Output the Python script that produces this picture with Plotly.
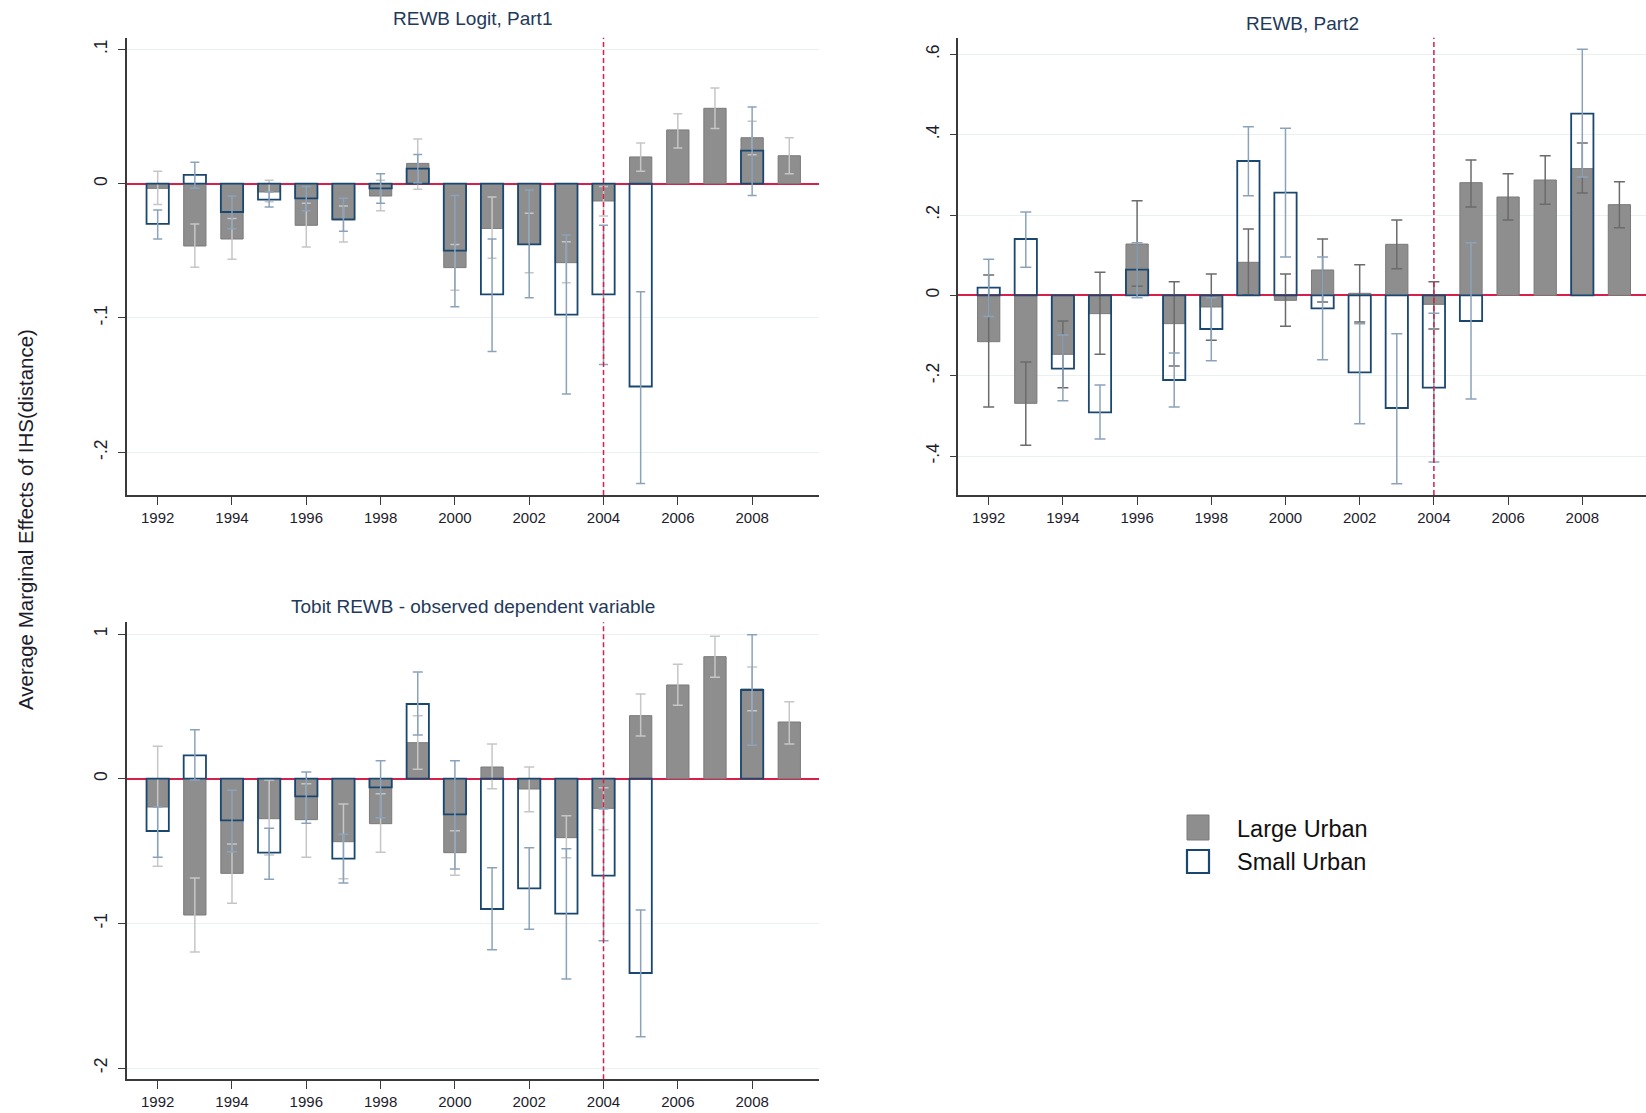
import plotly.graph_objects as go

# ---- data -------------------------------------------------------------
years = list(range(1992, 2010))

# Panel 1: REWB Logit, Part1
logit_large = [-0.0035, -0.0464, -0.0412, -0.0062, -0.031, -0.027, -0.0092, 0.0151, -0.0625,
               -0.0333, -0.0452, -0.0588, -0.0129, 0.0199, 0.040, 0.0561, 0.0342, 0.0208]
logit_large_lo = [-0.0156, -0.0623, -0.0563, -0.0134, -0.0471, -0.0434, -0.0201, -0.0042, -0.0794,
                  -0.0556, -0.0663, -0.0737, -0.0241, 0.0092, 0.0266, 0.041, 0.0216, 0.0074]
logit_large_hi = [0.0092, -0.030, -0.026, 0.0025, -0.0146, -0.0166, 0.0025, 0.0333, -0.0452,
                  -0.0099, -0.0221, -0.0432, -0.0022, 0.0303, 0.0521, 0.0712, 0.0464, 0.0342]
logit_small = [-0.030, 0.0065, -0.0211, -0.0119, -0.0109, -0.0266, -0.0035, 0.0112, -0.0499,
               -0.0824, -0.0452, -0.0975, -0.0824, -0.151, None, None, 0.0246, None]
logit_small_lo = [-0.0412, -0.0035, -0.0335, -0.0174, -0.0201, -0.0355, -0.0146, 0.0007, -0.0916,
                  -0.125, -0.0849, -0.1566, -0.1347, -0.2233, None, None, -0.0089, None]
logit_small_hi = [-0.0196, 0.0159, -0.0092, -0.0062, -0.0022, -0.0109, 0.0074, 0.0218, -0.0089,
                  -0.0412, -0.0047, -0.0382, -0.031, -0.0804, None, None, 0.0571, None]

# Panel 2: REWB, Part2
rewb_large = [-0.1154, -0.2689, -0.1469, -0.0456, 0.1278, -0.0705, -0.029, 0.0822, -0.0124,
              0.0631, 0.005, 0.127, -0.0224, 0.2805, 0.2448, 0.2871, 0.3154, 0.2257]
rewb_large_lo = [-0.278, -0.3734, -0.2299, -0.1469, 0.0224, -0.176, -0.112, 0.0017, -0.0772,
                 -0.0166, -0.0664, 0.0664, -0.0838, 0.2199, 0.1876, 0.2266, 0.2548, 0.1685]
rewb_large_hi = [0.0506, -0.166, -0.0639, 0.0573, 0.2357, 0.034, 0.0531, 0.1651, 0.0531,
                 0.1402, 0.0763, 0.1876, 0.034, 0.3369, 0.3029, 0.3477, 0.3793, 0.283]
rewb_small = [0.0191, 0.1402, -0.1826, -0.2913, 0.0639, -0.2108, -0.0838, 0.3344, 0.2556,
              -0.0324, -0.1917, -0.2805, -0.2299, -0.0639, None, None, 0.4523, None]
rewb_small_lo = [-0.053, 0.0697, -0.2622, -0.3577, -0.0058, -0.278, -0.1627, 0.2481, 0.0954,
                 -0.1602, -0.3195, -0.4689, -0.415, -0.2581, None, None, 0.2946, None]
rewb_small_hi = [0.0896, 0.2075, -0.0988, -0.2232, 0.1311, -0.1436, -0.006, 0.4199, 0.4158,
                 0.0954, -0.0705, -0.0954, -0.0448, 0.1311, None, None, 0.6124, None]

# Panel 3: Tobit REWB - observed dependent variable
tobit_large = [-0.1959, -0.9424, -0.6544, -0.2765, -0.2834, -0.4355, -0.3111, 0.2488, -0.5115,
               0.0806, -0.0714, -0.4078, -0.2051, 0.4355, 0.6475, 0.8433, 0.6198, 0.3917]
tobit_large_lo = [-0.606, -1.198, -0.8618, -0.5276, -0.5438, -0.6912, -0.5092, 0.0645, -0.6682,
                  -0.0691, -0.2281, -0.5461, -0.3525, 0.2949, 0.5069, 0.7005, 0.47, 0.2396]
tobit_large_hi = [0.2235, -0.6866, -0.4516, -0.0092, -0.0346, -0.1751, -0.1037, 0.4355, -0.3594,
                  0.2396, 0.0806, -0.2558, -0.0622, 0.5853, 0.7903, 0.9839, 0.7719, 0.5323]
tobit_small = [-0.3618, 0.1613, -0.288, -0.5115, -0.1221, -0.553, -0.0599, 0.5161, -0.2465,
               -0.9009, -0.758, -0.9332, -0.6705, -1.3433, None, None, 0.613, None]
tobit_small_lo = [-0.5438, -0.01, -0.5046, -0.6959, -0.3088, -0.7212, -0.2696, 0.3018, -0.6244,
                  -1.182, -1.0415, -1.3848, -1.1198, -1.7834, None, None, 0.2304, None]
tobit_small_hi = [-0.1959, 0.3387, -0.0806, -0.3433, 0.0461, -0.3848, 0.1244, 0.7373, 0.1244,
                  -0.6152, -0.477, -0.4839, -0.2097, -0.9078, None, None, 0.9954, None]

# Tick labels
x_ticks = list(range(1992, 2009, 2))
logit_yticks = [0.1, 0, -0.1, -0.2]
logit_ylabels = [".1", "0", "-.1", "-.2"]
rewb_yticks = [0.6, 0.4, 0.2, 0, -0.2, -0.4]
rewb_ylabels = [".6", ".4", ".2", "0", "-.2", "-.4"]
tobit_yticks = [1, 0, -1, -2]
tobit_ylabels = ["1", "0", "-1", "-2"]

titles = ["REWB Logit, Part1", "REWB, Part2", "Tobit REWB - observed dependent variable"]
series_names = ["Large Urban", "Small Urban"]
y_title = "Average Marginal Effects of IHS(distance)"
policy_year = 2004

# ---- styling ----------------------------------------------------------
W, H = 1646, 1113
FONT = "Liberation Sans, Arial, sans-serif"
GRAY_FILL = "#8e8e8e"
GRAY_EDGE = "#7a7a7a"
NAVY = "#1a476f"
CI_LIGHT = "#c6c6c6"
CI_DARK = "#6b6b6b"
CI_BLUE = "#8ba3ba"
RED = "#d81e4a"
TEXT = "#1c1c2c"
TITLE_COL = "#23395b"


def px_x(p):
    return p / W


def px_y(p):
    return 1 - p / H


def err_parts(vals, lo, hi):
    plus = [None if v is None else h - v for v, h in zip(vals, hi)]
    minus = [None if v is None else v - l for v, l in zip(vals, lo)]
    return plus, minus


panels = [
    dict(large=(logit_large, logit_large_lo, logit_large_hi),
         small=(logit_small, logit_small_lo, logit_small_hi),
         xpx=(126.7, 819.0), ypx=(37.7, 495.0),
         xrange=[1991.166, 2009.80], yrange=[-0.23177, 0.10866],
         yticks=logit_yticks, ylabels=logit_ylabels,
         large_ci=CI_LIGHT, cap=4.5, title=titles[0], title_y=18.5),
    dict(large=(rewb_large, rewb_large_lo, rewb_large_hi),
         small=(rewb_small, rewb_small_lo, rewb_small_hi),
         xpx=(958.3, 1646.0), ypx=(37.7, 495.0),
         xrange=[1991.181, 2009.717], yrange=[-0.4971, 0.6414],
         yticks=rewb_yticks, ylabels=rewb_ylabels,
         large_ci=CI_DARK, cap=5.5, title=titles[1], title_y=23.0),
    dict(large=(tobit_large, tobit_large_lo, tobit_large_hi),
         small=(tobit_small, tobit_small_lo, tobit_small_hi),
         xpx=(126.7, 819.0), ypx=(622.3, 1079.3),
         xrange=[1991.166, 2009.80], yrange=[-2.078, 1.0809],
         yticks=tobit_yticks, ylabels=tobit_ylabels,
         large_ci=CI_LIGHT, cap=5.0, title=titles[2], title_y=606.5),
]

fig = go.Figure()
layout = dict(
    width=W, height=H, autosize=False,
    margin=dict(l=0, r=0, t=0, b=0),
    paper_bgcolor="white", plot_bgcolor="white",
    barmode="overlay", showlegend=False,
    font=dict(family=FONT, color=TEXT),
)
shapes = []
annotations = []

for i, p in enumerate(panels, start=1):
    xa = "x" if i == 1 else f"x{i}"
    ya = "y" if i == 1 else f"y{i}"
    xkey = "xaxis" if i == 1 else f"xaxis{i}"
    ykey = "yaxis" if i == 1 else f"yaxis{i}"

    lv, llo, lhi = p["large"]
    sv, slo, shi = p["small"]
    lp, lm = err_parts(lv, llo, lhi)
    sp, sm = err_parts(sv, slo, shi)

    fig.add_trace(go.Bar(
        x=years, y=lv, width=0.6, name=series_names[0], xaxis=xa, yaxis=ya,
        marker=dict(color=GRAY_FILL, line=dict(color=GRAY_EDGE, width=1)),
        error_y=dict(type="data", symmetric=False, array=lp, arrayminus=lm,
                     color=p["large_ci"], thickness=1.5, width=p["cap"]),
    ))
    fig.add_trace(go.Bar(
        x=years, y=sv, width=0.6, name=series_names[1], xaxis=xa, yaxis=ya,
        marker=dict(color="rgba(255,255,255,0)", line=dict(color=NAVY, width=1.8)),
        error_y=dict(type="data", symmetric=False, array=sp, arrayminus=sm,
                     color=CI_BLUE, thickness=1.5, width=p["cap"]),
    ))

    x0, x1 = p["xpx"]
    y0, y1 = p["ypx"]
    layout[xkey] = dict(
        domain=[px_x(x0), px_x(x1)], range=p["xrange"], anchor=ya,
        tickmode="array", tickvals=x_ticks, ticktext=[str(t) for t in x_ticks],
        ticks="outside", ticklen=8, tickwidth=1.4, tickcolor="#3a3a3a",
        showline=True, linecolor="#3a3a3a", linewidth=1.6,
        showgrid=False, zeroline=False,
        tickfont=dict(family=FONT, size=15, color=TEXT),
    )
    layout[ykey] = dict(
        domain=[px_y(y1), px_y(y0)], range=p["yrange"], anchor=xa,
        tickmode="array", tickvals=p["yticks"], ticktext=p["ylabels"],
        tickangle=-90, ticks="outside", ticklen=7, tickwidth=1.4, tickcolor="#3a3a3a",
        ticklabelstandoff=4,
        showline=True, linecolor="#3a3a3a", linewidth=1.6,
        showgrid=True, gridcolor="#e8f0f2", gridwidth=1,
        zeroline=True, zerolinecolor=RED, zerolinewidth=1.5,
        tickfont=dict(family=FONT, size=17.5, color=TEXT),
    )

    # 2004 reference line
    shapes.append(dict(
        type="line", xref=xa, yref=f"{ya} domain", x0=policy_year, x1=policy_year,
        y0=0, y1=1, line=dict(color=RED, width=1.5, dash="5px,3px"), layer="above",
    ))

    annotations.append(dict(
        text=p["title"], xref="paper", yref="paper",
        x=px_x((x0 + x1) / 2), y=px_y(p["title_y"]),
        xanchor="center", yanchor="middle", showarrow=False,
        font=dict(family=FONT, size=19, color=TITLE_COL),
    ))

# shared y-axis title
annotations.append(dict(
    text=y_title, xref="paper", yref="paper", x=px_x(26), y=px_y(520),
    xanchor="center", yanchor="middle", textangle=-90, showarrow=False,
    font=dict(family=FONT, size=20.5, color=TEXT),
))

# legend key drawn as swatches plus labels
key_x0, key_x1 = 1187, 1209
shapes.append(dict(type="rect", xref="paper", yref="paper",
                   x0=px_x(key_x0), x1=px_x(key_x1), y0=px_y(840), y1=px_y(815),
                   fillcolor=GRAY_FILL, line=dict(color=GRAY_EDGE, width=1)))
shapes.append(dict(type="rect", xref="paper", yref="paper",
                   x0=px_x(key_x0), x1=px_x(key_x1), y0=px_y(873), y1=px_y(850),
                   fillcolor="white", line=dict(color=NAVY, width=2.2)))
for label, yc in zip(series_names, (829, 861.5)):
    annotations.append(dict(
        text=label, xref="paper", yref="paper", x=px_x(1235), y=px_y(yc),
        xanchor="left", yanchor="middle", showarrow=False,
        font=dict(family=FONT, size=23.5, color="#111111"),
    ))

layout["shapes"] = shapes
layout["annotations"] = annotations
fig.update_layout(**layout)

fig.write_html("out.html")
